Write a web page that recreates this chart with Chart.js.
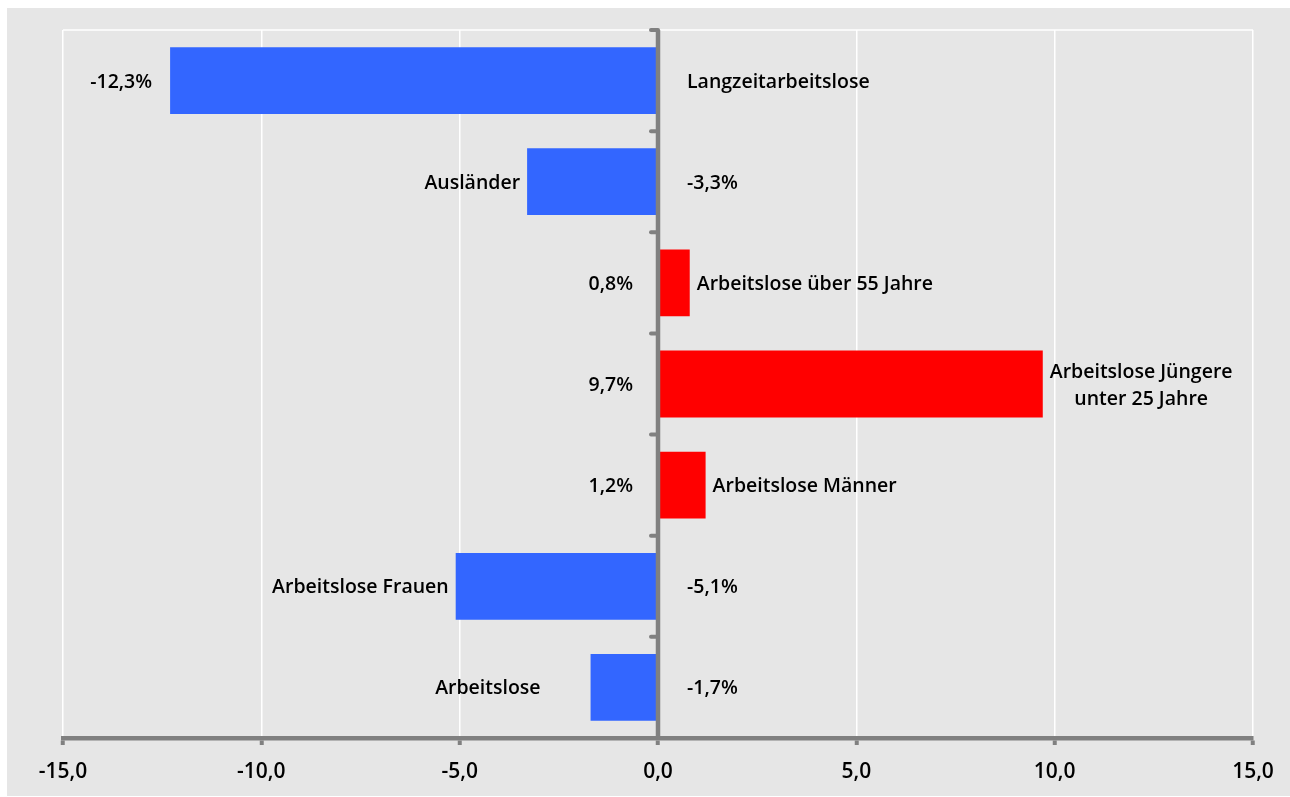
<!DOCTYPE html>
<html>
<head>
<meta charset="utf-8">
<title>Arbeitslose Veränderung</title>
<script src="https://cdn.jsdelivr.net/npm/chart.js"></script>
<style>
  html, body { margin: 0; padding: 0; background: #ffffff; }
  #wrap { width: 1290px; height: 797px; position: relative; }
</style>
</head>
<body>
<div id="wrap"><canvas id="chart"></canvas></div>
<script>
// Data (top to bottom)
const categories = [
  ['Langzeitarbeitslose'],
  ['Ausländer'],
  ['Arbeitslose über 55 Jahre'],
  ['Arbeitslose Jüngere', 'unter 25 Jahre'],
  ['Arbeitslose Männer'],
  ['Arbeitslose Frauen'],
  ['Arbeitslose']
];
const changePercent = [-12.3, -3.3, 0.8, 9.7, 1.2, -5.1, -1.7];
const xTicks = [-15, -10, -5, 0, 5, 10, 15];

// Where each row puts its name / value label: 'end' = next to bar end, 'axis' = other side of zero line
const labelPlacement = [
  { name: 'axis', value: 'end' },
  { name: 'end', value: 'axis' },
  { name: 'end', value: 'axis' },
  { name: 'end', value: 'axis', center: true },
  { name: 'end', value: 'axis' },
  { name: 'end', value: 'axis' },
  { name: 'end', value: 'axis', extraGap: 43 }
];

const BLUE = '#3366ff';
const RED = '#ff0000';
const AXIS_GRAY = '#808080';
const FONT = '"Open Sans", "Noto Sans", sans-serif';

const fmt = v => v.toFixed(1).replace('.', ',');

// Gray panel + top border line of the plot
const panelPlugin = {
  id: 'panel',
  beforeDraw(chart) {
    const { ctx, chartArea } = chart;
    ctx.save();
    ctx.fillStyle = '#e6e6e6';
    ctx.fillRect(7, 8, chart.width - 7, chart.height - 9);
    ctx.strokeStyle = '#ffffff';
    ctx.lineWidth = 1.5;
    ctx.beginPath();
    ctx.moveTo(chartArea.left, chartArea.top);
    ctx.lineTo(chartArea.right, chartArea.top);
    ctx.stroke();
    ctx.restore();
  }
};

// Zero line with category tick marks
const zeroAxisPlugin = {
  id: 'zeroAxis',
  afterDatasetsDraw(chart) {
    const { ctx, chartArea, scales } = chart;
    const x0 = scales.x.getPixelForValue(0);
    const y = scales.y;
    const band = y.getPixelForValue(1) - y.getPixelForValue(0);
    ctx.save();
    ctx.strokeStyle = AXIS_GRAY;
    ctx.lineWidth = 4.5;
    ctx.lineCap = 'butt';
    ctx.beginPath();
    ctx.moveTo(x0, chartArea.top);
    ctx.lineTo(x0, chartArea.bottom);
    ctx.stroke();
    ctx.lineCap = 'round';
    ctx.lineWidth = 4;
    for (let i = 0; i <= categories.length; i++) {
      const yy = y.getPixelForValue(0) - band / 2 + i * band;
      ctx.beginPath();
      ctx.moveTo(x0, yy);
      ctx.lineTo(x0 - 7, yy);
      ctx.stroke();
    }
    ctx.restore();
  }
};

// Category names and value labels
const labelPlugin = {
  id: 'barLabels',
  afterDatasetsDraw(chart) {
    const { ctx, scales } = chart;
    const x0 = scales.x.getPixelForValue(0);
    ctx.save();
    ctx.fillStyle = '#000000';
    ctx.font = '600 19.5px ' + FONT;
    ctx.textBaseline = 'middle';
    changePercent.forEach((v, i) => {
      const yc = scales.y.getPixelForValue(i) + 1.5;
      const xe = scales.x.getPixelForValue(v);
      const neg = v < 0;
      const p = labelPlacement[i];
      // value label
      const valText = fmt(v) + '%';
      if (p.value === 'end') {
        ctx.textAlign = neg ? 'right' : 'left';
        ctx.fillText(valText, xe + (neg ? -18 : 18), yc);
      } else {
        ctx.textAlign = neg ? 'left' : 'right';
        ctx.fillText(valText, x0 + (neg ? 29 : -25), yc);
      }
      // name label
      const lines = categories[i];
      const lh = 27;
      const gap = 7 + (p.extraGap || 0);
      let xn, align;
      if (p.name === 'end') {
        align = neg ? 'right' : 'left';
        xn = xe + (neg ? -gap : gap);
      } else {
        align = neg ? 'left' : 'right';
        xn = x0 + (neg ? 29 : -29);
      }
      let widest = 0;
      lines.forEach(t => { widest = Math.max(widest, ctx.measureText(t).width); });
      lines.forEach((t, k) => {
        const ly = yc + (k - (lines.length - 1) / 2) * lh;
        if (p.center) {
          ctx.textAlign = 'center';
          const cx = align === 'left' ? xn + widest / 2 : xn - widest / 2;
          ctx.fillText(t, cx, ly);
        } else {
          ctx.textAlign = align;
          ctx.fillText(t, xn, ly);
        }
      });
    });
    ctx.restore();
  }
};

const ctx = document.getElementById('chart').getContext('2d');
new Chart(ctx, {
  type: 'bar',
  data: {
    labels: categories.map(c => c.join(' ')),
    datasets: [{
      data: changePercent,
      backgroundColor: changePercent.map(v => v < 0 ? BLUE : RED),
      borderWidth: 0,
      barPercentage: 0.66,
      categoryPercentage: 1.0
    }]
  },
  options: {
    indexAxis: 'y',
    responsive: true,
    maintainAspectRatio: false,
    animation: false,
    layout: { padding: { left: 63, right: 37, top: 30, bottom: 0 } },
    plugins: {
      legend: { display: false },
      tooltip: { enabled: false }
    },
    scales: {
      x: {
        min: -15,
        max: 15,
        afterBuildTicks: scale => { scale.ticks = xTicks.map(v => ({ value: v })); },
        afterFit: scale => { scale.height = 59; },
        grid: {
          color: '#ffffff',
          lineWidth: 1.5,
          drawTicks: true,
          tickLength: 7,
          tickColor: AXIS_GRAY,
          tickWidth: 4
        },
        border: { display: true, color: AXIS_GRAY, width: 4.5 },
        ticks: {
          color: '#000000',
          padding: 14,
          font: { family: FONT, size: 21, weight: '600' },
          callback: v => fmt(v)
        }
      },
      y: {
        display: false,
        grid: { display: false }
      }
    }
  },
  plugins: [panelPlugin, zeroAxisPlugin, labelPlugin]
});
</script>
</body>
</html>
